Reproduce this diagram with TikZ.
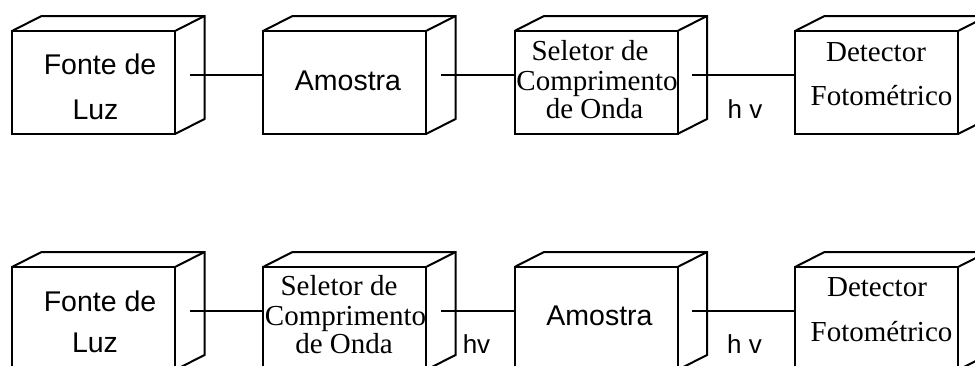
\documentclass[tikz,border=0pt]{standalone}
\usepackage{fontspec}
\setmainfont{Liberation Serif}
\newfontfamily\arialf{Liberation Sans}
\usetikzlibrary{calc}
\tikzset{
  front/.style={draw, line width=2pt, minimum width=163pt, minimum height=103pt, inner sep=0pt, outer sep=0pt},
  sanslab/.style={font=\arialf\fontsize{28.5}{28.5}\selectfont, anchor=base, inner sep=0pt},
  seriflab/.style={font=\fontsize{29}{29}\selectfont, anchor=base, inner sep=0pt},
  hvlab/.style={font=\arialf\fontsize{26}{26}\selectfont, anchor=base, inner sep=0pt},
  link/.style={line width=2pt},
  edge3d/.style={line width=2pt, line join=miter},
}
\newcommand\cubedepth[1]{%
  \draw[edge3d] (#1.north west) -- ++(29.5,-15) -- ++(163,0) -- ++(0,103) -- (#1.south east);
  \draw[edge3d] (#1.north east) -- ++(29.5,-15);
  \coordinate (#1s) at ($(#1.east)+(14.75,-7.5)$);
}
\begin{document}
\begin{tikzpicture}[x=1pt,y=-1pt]
\useasboundingbox (0,0) rectangle (975,365);
\clip (0,0) rectangle (975,365);
% ---------- row 1
\node[front] (a1) at (93.5,82.5) {};
\node[front] (a2) at (344.5,82.5) {};
\node[front] (a3) at (596,82.5) {};
\node[front] (a4) at (876.5,82.5) {};
\cubedepth{a1}\cubedepth{a2}\cubedepth{a3}\cubedepth{a4}
\draw[link] (a1s) -- (a1s -| a2.west);
\draw[link] (a2s) -- (a2s -| a3.west);
\draw[link] (a3s) -- (a3s -| a4.west);
\node[sanslab] (a1t1) at (100,74) {Fonte de};
\node[sanslab] (a1t2) at (95.5,119) {Luz};
\node[sanslab] (a2t1) at (348,90) {Amostra};
\node[seriflab] (a3t1) at (590,60) {Seletor de};
\node[seriflab] (a3t2) at (597,90) {Comprimento};
\node[seriflab] (a3t3) at (594.5,118) {de Onda};
\node[seriflab] (a4t1) at (876,61) {Detector};
\node[seriflab] (a4t2) at (881.5,105) {Fotométrico};
\node[hvlab] (hv1) at (745,118) {h v};
% ---------- row 2
\node[front] (b1) at (93.5,318.5) {};
\node[front] (b2) at (344.5,318.5) {};
\node[front] (b3) at (596,318.5) {};
\node[front] (b4) at (876.5,318.5) {};
\cubedepth{b1}\cubedepth{b2}\cubedepth{b3}\cubedepth{b4}
\draw[link] (b1s) -- (b1s -| b2.west);
\draw[link] (b2s) -- (b2s -| b3.west);
\draw[link] (b3s) -- (b3s -| b4.west);
\node[sanslab] (b1t1) at (100,311) {Fonte de};
\node[sanslab] (b1t2) at (95,352) {Luz};
\node[seriflab] (b2t1) at (339,295) {Seletor de};
\node[seriflab] (b2t2) at (345.5,325) {Comprimento};
\node[seriflab] (b2t3) at (344,353) {de Onda};
\node[sanslab] (b3t1) at (599.5,325) {Amostra};
\node[seriflab] (b4t1) at (877,296) {Detector};
\node[seriflab] (b4t2) at (881.5,341) {Fotométrico};
\node[hvlab] (hv2) at (476.5,353) {hv};
\node[hvlab] (hv3) at (744.5,353) {h v};
\end{tikzpicture}
\end{document}
